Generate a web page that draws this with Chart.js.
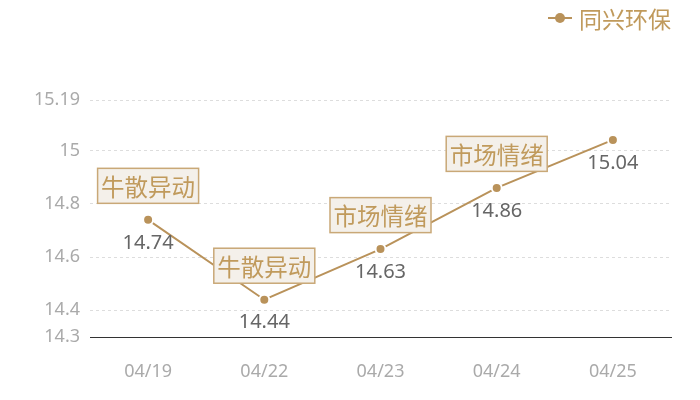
<!DOCTYPE html>
<html lang="zh">
<head>
  <meta charset="UTF-8" />
  <title>同兴环保</title>
  <script src="https://cdn.jsdelivr.net/npm/chart.js"></script>
  <style>
    html, body { margin: 0; padding: 0; background: #fff; }
    .wrap { width: 700px; height: 400px; }
  </style>
</head>
<body>
<div class="wrap"><canvas id="c" width="700" height="400"></canvas></div>
<script>
  const dates = ['04/19', '04/22', '04/23', '04/24', '04/25'];
  const prices = [14.74, 14.44, 14.63, 14.86, 15.04];
  const tags = ['牛散异动', '牛散异动', '市场情绪', '市场情绪', null];
  const yTicks = [14.3, 14.4, 14.6, 14.8, 15, 15.19];
  const seriesName = '同兴环保';

  const FONT = '"Noto Sans CJK SC", "Noto Sans", sans-serif';
  const NUM_FONT = '"Noto Sans", "Noto Sans CJK SC", sans-serif';
  const gold = '#b9925a';
  const goldText = '#c09a5c';

  // value labels, tag boxes and the legend
  const extras = {
    id: 'extras',
    afterDatasetsDraw(chart) {
      const ctx = chart.ctx;
      const pts = chart.getDatasetMeta(0).data;
      ctx.save();
      ctx.textAlign = 'center';
      ctx.textBaseline = 'middle';
      pts.forEach((p, i) => {
        ctx.font = '20px ' + NUM_FONT;
        ctx.fillStyle = '#666';
        ctx.fillText(String(prices[i]), p.x, p.y + 23);
        if (tags[i]) {
          const w = 101, h = 35, cy = p.y - 34;
          ctx.fillStyle = '#f4f0ea';
          ctx.fillRect(p.x - w / 2, cy - h / 2, w, h);
          ctx.strokeStyle = '#c9a877';
          ctx.lineWidth = 1.5;
          ctx.strokeRect(p.x - w / 2, cy - h / 2, w, h);
          ctx.font = '23.5px ' + FONT;
          ctx.fillStyle = goldText;
          ctx.fillText(tags[i], p.x, cy + 1);
        }
      });
      // legend
      ctx.strokeStyle = gold;
      ctx.lineWidth = 2;
      ctx.beginPath();
      ctx.moveTo(548, 18);
      ctx.lineTo(572, 18);
      ctx.stroke();
      ctx.fillStyle = gold;
      ctx.beginPath();
      ctx.arc(560, 18, 5, 0, Math.PI * 2);
      ctx.fill();
      ctx.font = '23px ' + FONT;
      ctx.fillStyle = goldText;
      ctx.textAlign = 'left';
      ctx.fillText(seriesName, 579, 19);
      ctx.restore();
    }
  };

  new Chart(document.getElementById('c'), {
    type: 'line',
    data: {
      labels: dates,
      datasets: [{
        label: seriesName,
        data: prices,
        borderColor: gold,
        borderWidth: 2,
        pointRadius: 5,
        pointHoverRadius: 5,
        pointBackgroundColor: gold,
        pointBorderColor: '#fff',
        pointBorderWidth: 2,
        tension: 0
      }]
    },
    options: {
      responsive: false,
      animation: false,
      layout: { padding: { top: 100, right: 29, left: 0, bottom: 0 } },
      plugins: { legend: { display: false }, tooltip: { enabled: false } },
      scales: {
        x: {
          offset: true,
          grid: { display: false, drawTicks: false },
          border: { display: true, color: '#333', width: 1 },
          ticks: { color: '#aaa', font: { size: 18, family: NUM_FONT }, padding: 24 },
          afterFit(s) { s.height = 63; }
        },
        y: {
          min: 14.3,
          max: 15.19,
          afterBuildTicks(s) { s.ticks = yTicks.map(v => ({ value: v })); },
          afterFit(s) { s.width = 90; },
          grid: { color: '#ddd', drawTicks: false },
          border: { display: false, dash: [3, 3] },
          ticks: {
            color: '#aaa',
            font: { size: 18, family: NUM_FONT },
            padding: 10,
            callback: v => String(v)
          }
        }
      }
    },
    plugins: [extras]
  });
</script>
</body>
</html>
